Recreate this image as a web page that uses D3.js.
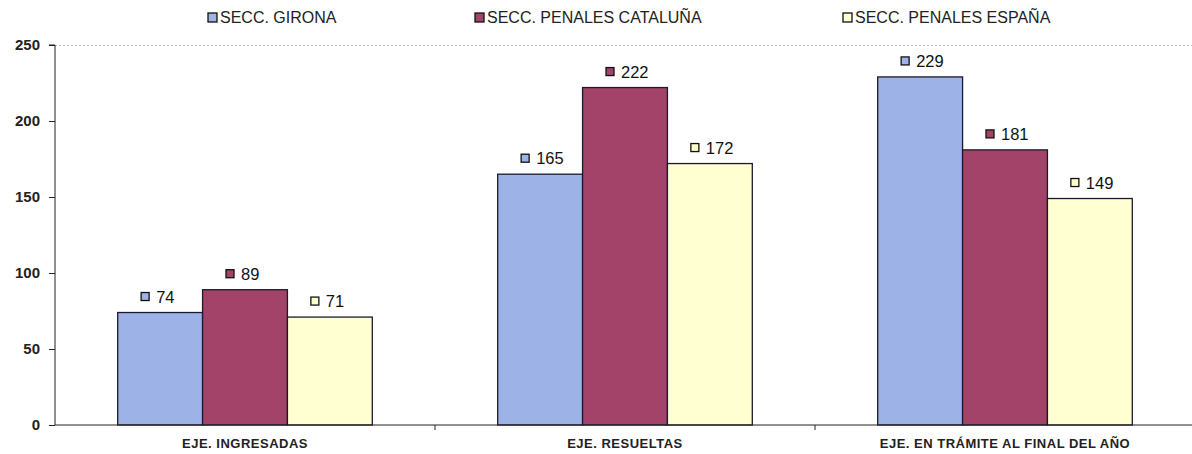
<!DOCTYPE html>
<html>
<head>
<meta charset="utf-8">
<script src="https://cdn.jsdelivr.net/npm/d3@7"></script>
<style>
  body { margin: 0; background: #fff; }
  text { font-family: "Liberation Sans", Arial, sans-serif; }
</style>
</head>
<body>
<svg id="chart" width="1192" height="454"></svg>
<script>
const categories = ["EJE. INGRESADAS", "EJE. RESUELTAS", "EJE. EN TRÁMITE AL FINAL DEL AÑO"];
const seriesNames = ["SECC. GIRONA", "SECC. PENALES CATALUÑA", "SECC. PENALES ESPAÑA"];
const gironaValues = [74, 165, 229];
const cataluniaValues = [89, 222, 181];
const espanaValues = [71, 172, 149];
const yTicks = [0, 50, 100, 150, 200, 250];
const colors = ["#9db2e6", "#a3436a", "#ffffd2"];

const width = 1192;
const height = 454;
const margin = { top: 45, bottom: 29, right: 3, left: 55 };

const svg = d3.select("#chart");
const plotWidth = width - margin.left - margin.right;
const plotHeight = height - margin.top - margin.bottom;

const series = [gironaValues, cataluniaValues, espanaValues];
const data = categories.map((cat, i) => ({
  cat,
  values: series.map((vals, s) => ({ name: seriesNames[s], s, value: vals[i] }))
}));

// categories are a bit wider than the visible plot, like in the original
const x0 = d3.scaleBand(categories, [0, 1140]).paddingInner(0.33).paddingOuter(0.165);
const x1 = d3.scaleBand(d3.range(series.length), [0, x0.bandwidth()]);
const y = d3.scaleLinear([0, 250], [plotHeight, 0]);

const plot = svg.append("g").attr("transform", `translate(${margin.left},${margin.top})`);

// top gridline
plot.append("line")
  .attr("x1", 0).attr("x2", plotWidth + margin.right)
  .attr("y1", y(250) + 0.5).attr("y2", y(250) + 0.5)
  .attr("stroke", "#bbb").attr("stroke-dasharray", "2,2");

// bars
const groups = plot.append("g").selectAll("g")
  .data(data).join("g")
  .attr("transform", d => `translate(${x0(d.cat)},0)`);

groups.selectAll("rect")
  .data(d => d.values).join("rect")
  .attr("x", d => x1(d.s))
  .attr("y", d => y(d.value))
  .attr("width", x1.bandwidth())
  .attr("height", d => y(0) - y(d.value))
  .attr("fill", d => colors[d.s])
  .attr("stroke", "#1a1a2a")
  .attr("stroke-width", 1.3);

// value labels with small marker
const labels = groups.selectAll("g.lab")
  .data(d => d.values).join("g")
  .attr("class", "lab")
  .attr("transform", d => `translate(${x1(d.s) + x1.bandwidth() / 2},${y(d.value) - 10})`);

labels.append("rect")
  .attr("x", -19).attr("y", -10)
  .attr("width", 8).attr("height", 8)
  .attr("fill", d => colors[d.s])
  .attr("stroke", "#111").attr("stroke-width", 1.3);

labels.append("text")
  .attr("x", -4).attr("y", 0)
  .attr("font-size", 16.5)
  .attr("fill", "#111")
  .text(d => d.value);

// y axis
const yAxis = d3.axisLeft(y).tickValues(yTicks).tickSize(6).tickPadding(9);
const gy = plot.append("g").call(yAxis);
gy.select(".domain").attr("d", `M-6,${y(250)}H0V${y(0)}`).attr("stroke", "#222");
gy.selectAll(".tick line").attr("stroke", "#222");
gy.selectAll(".tick text")
  .attr("font-size", 15).attr("font-weight", "bold").attr("fill", "#222")
  .style("font-family", "Liberation Sans, Arial, sans-serif");

// x axis
plot.append("line")
  .attr("x1", 0).attr("x2", plotWidth + margin.right)
  .attr("y1", y(0)).attr("y2", y(0))
  .attr("stroke", "#222").attr("stroke-width", 1.2);

const step = x0.step();
plot.append("g").selectAll("line")
  .data([1, 2]).join("line")
  .attr("x1", d => d * step).attr("x2", d => d * step)
  .attr("y1", y(0)).attr("y2", y(0) + 5)
  .attr("stroke", "#222");

plot.append("g").selectAll("text")
  .data(categories).join("text")
  .attr("x", d => x0(d) + x0.bandwidth() / 2)
  .attr("y", y(0) + 23)
  .attr("text-anchor", "middle")
  .attr("font-size", 13)
  .attr("font-weight", "bold")
  .attr("letter-spacing", 0.5)
  .attr("fill", "#222")
  .text(d => d);

// legend
const legendX = [208, 475, 843];
const legend = svg.append("g").selectAll("g")
  .data(seriesNames).join("g")
  .attr("transform", (d, i) => `translate(${legendX[i]},17)`);

legend.append("rect")
  .attr("x", 0).attr("y", -4)
  .attr("width", 9).attr("height", 9)
  .attr("fill", (d, i) => colors[i])
  .attr("stroke", "#111").attr("stroke-width", 1.3);

legend.append("text")
  .attr("x", 12).attr("y", 6)
  .attr("font-size", 16)
  .attr("fill", "#222")
  .text(d => d);
</script>
</body>
</html>
